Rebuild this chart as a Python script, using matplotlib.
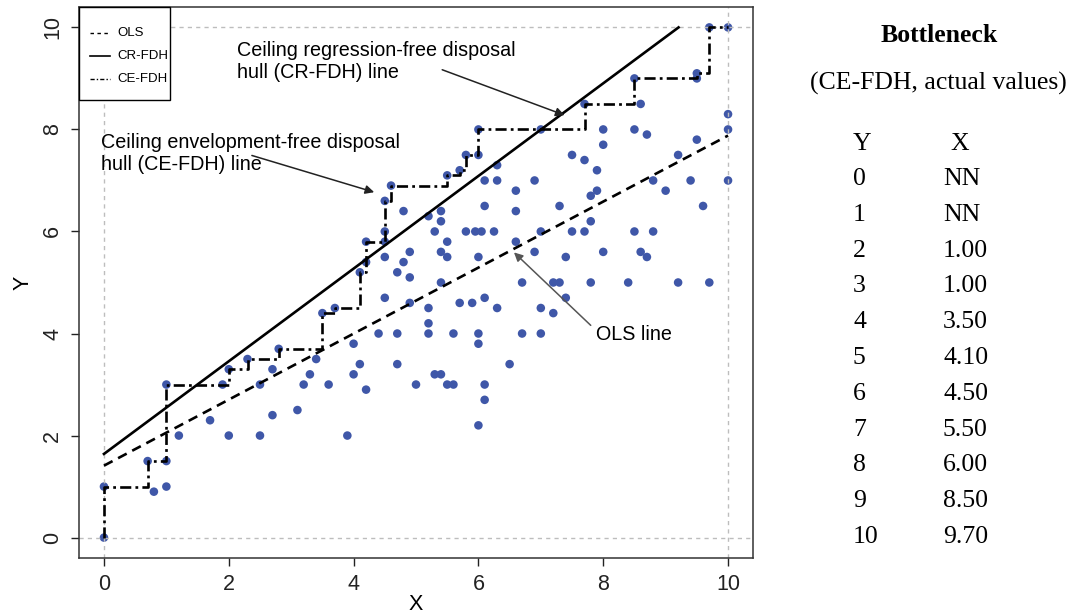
import matplotlib
matplotlib.use("Agg")
import matplotlib.pyplot as plt
from matplotlib.patches import Rectangle
import numpy as np

plt.rcParams['lines.scale_dashes'] = False

# ---------------- data ----------------
x_vals = [0, 0, 0.7, 0.8, 1.0, 1.0, 1.0, 1.2, 1.7, 2.0, 1.9, 2.0, 2.3, 2.5, 2.5, 2.7, 2.7, 2.8,
          3.1, 3.2, 3.3, 3.4, 3.6, 3.5, 3.7, 4.0, 4.1, 4.2, 4.2, 4.5, 4.5, 4.5, 4.5, 4.4, 4.7,
          4.5, 4.6, 4.7, 4.8, 4.9, 4.9, 4.8, 4.9, 5.2, 5.2, 5.2, 5.2, 5.4, 5.4, 5.3, 5.4, 5.5,
          5.5, 5.4, 5.5, 5.7, 5.8, 6.0, 6.0, 6.1, 6.3, 6.3, 6.9, 6.6, 6.1, 6.6, 5.8, 5.95, 6.05,
          6.25, 7.0, 6.6, 6.9, 6.0, 6.7, 6.1, 5.7, 5.9, 6.3, 7.0, 6.0, 6.0, 5.6, 6.7, 7.0,
          4.1, 4.0, 4.2, 3.9, 4.7, 5.0, 5.3, 5.4, 5.5, 5.6, 6.1, 6.1, 6.0, 6.5,
          10.0, 9.7, 9.5, 9.5, 8.5, 8.6, 7.7, 7.0, 8.0, 8.5, 8.7, 8.0, 7.5, 7.7, 7.9, 7.8, 7.9,
          9.2, 9.5, 10.0, 10.0, 10.0, 8.8, 9.4, 9.0,
          7.3, 9.6, 7.8, 7.5, 7.7, 8.5, 8.8, 7.4, 8.0, 8.6, 8.7, 7.2, 7.3, 7.8, 8.4, 9.2, 9.7,
          7.4, 7.2]
y_vals = [0, 1.0, 1.5, 0.9, 1.0, 1.5, 3.0, 2.0, 2.3, 2.0, 3.0, 3.3, 3.5, 2.0, 3.0, 3.3, 2.4, 3.7,
          2.5, 3.0, 3.2, 3.5, 3.0, 4.4, 4.5, 3.8, 5.2, 5.4, 5.8, 5.8, 6.0, 5.5, 4.7, 4.0, 4.0,
          6.6, 6.9, 5.2, 5.4, 5.6, 5.1, 6.4, 4.6, 6.3, 4.5, 4.2, 4.0, 6.4, 6.2, 6.0, 5.6, 5.8,
          5.5, 5.0, 7.1, 7.2, 7.5, 7.5, 8.0, 7.0, 7.0, 7.3, 7.0, 6.8, 6.5, 6.4, 6.0, 6.0, 6.0,
          6.0, 6.0, 5.8, 5.6, 5.5, 5.0, 4.7, 4.6, 4.6, 4.5, 4.5, 4.0, 3.8, 4.0, 4.0, 4.0,
          3.4, 3.2, 2.9, 2.0, 3.4, 3.0, 3.2, 3.2, 3.0, 3.0, 3.0, 2.7, 2.2, 3.4,
          10.0, 10.0, 9.1, 9.0, 9.0, 8.5, 8.5, 8.0, 8.0, 8.0, 7.9, 7.7, 7.5, 7.4, 7.2, 6.7, 6.8,
          7.5, 7.8, 8.3, 8.0, 7.0, 7.0, 7.0, 6.8,
          6.5, 6.5, 6.2, 6.0, 6.0, 6.0, 6.0, 5.5, 5.6, 5.6, 5.5, 5.0, 5.0, 5.0, 5.0, 5.0, 5.0,
          4.7, 4.4]

# CE-FDH frontier (peer points of the step function)
fdh_x = [0, 0, 0.7, 1.0, 2.0, 2.3, 2.8, 3.5, 3.7, 4.1, 4.2, 4.5, 4.6, 5.5, 5.7, 5.8, 6.0, 7.7, 8.5, 9.5, 9.7, 10.0]
fdh_y = [0, 1.0, 1.5, 3.0, 3.3, 3.5, 3.7, 4.4, 4.5, 5.2, 5.8, 6.6, 6.9, 7.1, 7.2, 7.5, 8.0, 8.5, 9.0, 9.1, 10.0, 10.0]

# ceiling / regression lines
cr_intercept, cr_slope = 1.64, 0.908
ols_intercept, ols_slope = 1.41, 0.647

# bottleneck table
bn_y = ["0", "1", "2", "3", "4", "5", "6", "7", "8", "9", "10"]
bn_x = ["NN", "NN", "1.00", "1.00", "3.50", "4.10", "4.50", "5.50", "6.00", "8.50", "9.70"]

legend_labels = ["OLS", "CR-FDH", "CE-FDH"]
x_ticks = [0, 2, 4, 6, 8, 10]
y_ticks = [0, 2, 4, 6, 8, 10]

# ---------------- figure ----------------
W, H = 1075, 614
L, R, T, B = 79, 753, 7, 558
fig = plt.figure(figsize=(W / 100, H / 100), dpi=100)
ax = fig.add_axes([L / W, 1 - B / H, (R - L) / W, (B - T) / H])

def axx(px):
    return (px - L) / (R - L)
def axy(py):
    return (B - py) / (B - T)

sans = "Liberation Sans"
serif = "Liberation Serif"

ax.set_xlim(-0.4, 10.4)
ax.set_ylim(-0.4, 10.4)

pt_color = "#3F57A8"
ax.scatter(x_vals, y_vals, s=38, color=pt_color, edgecolor="none", zorder=2)

# reference grid lines at min / max
for v in (0, 10):
    ax.axvline(v, color="#bdbdbd", lw=1.0, dashes=(3, 3), zorder=2.5)
    ax.axhline(v, color="#bdbdbd", lw=1.0, dashes=(3, 3), zorder=2.5)

# OLS
xo = np.array([0, 10])
ax.plot(xo, ols_intercept + ols_slope * xo, color="black", lw=1.9, dashes=(7, 4.5), zorder=3)
# CR-FDH
x_end = (10 - cr_intercept) / cr_slope
xc = np.array([0, x_end])
ax.plot(xc, cr_intercept + cr_slope * xc, color="black", lw=1.9, zorder=3)
# CE-FDH
ax.plot(fdh_x, fdh_y, drawstyle="steps-post", color="black", lw=1.9,
        dashes=(8, 3, 2, 3), zorder=3)

# legend (drawn manually, R style)
tr = ax.transAxes
ax.add_patch(Rectangle((0, axy(100)), axx(170), 1 - axy(100), transform=tr,
                       facecolor="white", edgecolor="black", lw=1.0, zorder=5, clip_on=False))
leg_styles = [dict(dashes=(2.5, 2.5), lw=1.0), dict(lw=1.2), dict(dashes=(3, 1.5, 1, 1.5), lw=1.0)]
for i, (lab, st) in enumerate(zip(legend_labels, leg_styles)):
    py = 33 + i * 23
    ax.plot([axx(90), axx(110)], [axy(py), axy(py)], transform=tr, color="black",
            zorder=6, clip_on=False, **st)
    ax.text(axx(117), axy(py), lab, transform=tr, family=sans, fontsize=9.5,
            ha="left", va="center", zorder=6)

# annotations
fs_ann = 14.2
ax.text(2.13, 9.74, "Ceiling regression-free disposal\nhull (CR-FDH) line", family=sans,
        fontsize=fs_ann, ha="left", va="top", linespacing=1.25)
ax.text(-0.05, 7.94, "Ceiling envelopment-free disposal\nhull (CE-FDH) line", family=sans,
        fontsize=fs_ann, ha="left", va="top", linespacing=1.25)
ax.text(7.89, 3.98, "OLS line", family=sans, fontsize=fs_ann, ha="left", va="center")

arrow_kw = dict(arrowstyle="-|>", lw=1.1, mutation_scale=13, shrinkA=0, shrinkB=0)
ax.annotate("", xy=(7.38, 8.28), xytext=(5.42, 9.17),
            arrowprops=dict(color="#222222", **arrow_kw), zorder=4)
ax.annotate("", xy=(4.33, 6.77), xytext=(2.37, 7.49),
            arrowprops=dict(color="#222222", **arrow_kw), zorder=4)
ax.annotate("", xy=(6.57, 5.59), xytext=(7.80, 4.16),
            arrowprops=dict(color="#555555", **arrow_kw), zorder=4)

# axes styling
ax.set_xticks(x_ticks)
ax.set_yticks(y_ticks)
ax.set_xticklabels([str(t) for t in x_ticks], family=sans, fontsize=15.5)
ax.set_yticklabels([str(t) for t in y_ticks], family=sans, fontsize=15.5, rotation=90,
                   va="center")
ax.tick_params(direction="out", length=6, width=1, pad=5.5, colors="#222222")
for sp in ax.spines.values():
    sp.set_linewidth(1.1)
    sp.set_color("#333333")
ax.set_xlabel("X", family=sans, fontsize=15.5)
ax.set_ylabel("Y", family=sans, fontsize=15.5)
ax.xaxis.set_label_coords(0.499, -0.065)
ax.yaxis.set_label_coords(-0.068, 0.5)

# bottleneck table
fs_tab = 18.5
def fx(px):
    return px / W
def fy(py):
    return 1 - py / H

fig.text(fx(939), fy(35), "Bottleneck", family=serif, fontsize=fs_tab, fontweight="bold",
         ha="center", va="center")
fig.text(fx(938), fy(83), "(CE-FDH, actual values)", family=serif, fontsize=fs_tab,
         ha="center", va="center")
fig.text(fx(853), fy(144), "Y", family=serif, fontsize=fs_tab, ha="left", va="center")
fig.text(fx(950), fy(144), "X", family=serif, fontsize=fs_tab, ha="left", va="center")
row0, dy = 179, 35.8
for i, (yy, xx) in enumerate(zip(bn_y, bn_x)):
    fig.text(fx(853), fy(row0 + i * dy), yy, family=serif, fontsize=fs_tab, ha="left", va="center")
    fig.text(fx(943), fy(row0 + i * dy), xx, family=serif, fontsize=fs_tab, ha="left", va="center")

fig.savefig("out.png", dpi=100)
